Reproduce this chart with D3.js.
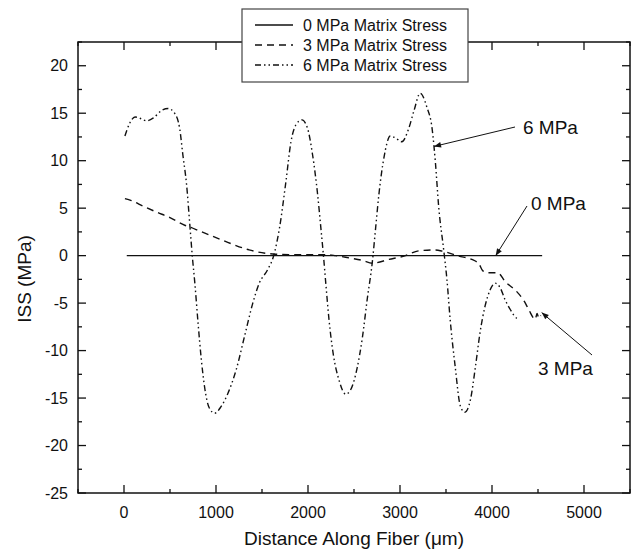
<!DOCTYPE html>
<html>
<head>
<meta charset="utf-8">
<script src="https://cdn.jsdelivr.net/npm/d3@7"></script>
<style>
  body { margin: 0; background: #fff; }
  text { font-family: "Liberation Sans", Arial, Helvetica, sans-serif; fill: #111; }
</style>
</head>
<body>
<svg id="chart" width="634" height="553"></svg>
<script>
// series (x in µm, ISS in MPa)
const zeroX = [30, 4545];
const zeroY = [0, 0];

const threeX = [10, 80, 210, 350, 500, 660, 720, 820, 1000, 1180, 1360, 1540, 1650, 1800, 2000, 2200, 2300, 2450, 2590, 2700, 2880, 3060, 3200, 3380, 3470, 3640, 3780, 3860, 3900, 3960, 4060, 4150, 4260, 4350, 4400, 4470, 4490, 4510, 4530];
const threeY = [6.0, 5.8, 5.2, 4.6, 4.0, 3.2, 3.0, 2.6, 1.9, 1.2, 0.6, 0.25, 0.15, 0.1, 0.1, 0.1, 0.0, -0.25, -0.5, -0.8, -0.4, 0.0, 0.5, 0.6, 0.45, -0.05, -0.4, -0.9, -1.6, -1.8, -1.8, -2.8, -3.7, -4.8, -5.7, -6.7, -6.1, -6.6, -6.3];

const sixX = [10, 65, 120, 190, 245, 320, 410, 480, 550, 605, 640, 680, 715, 742, 770, 805, 840, 880, 925, 985, 1055, 1130, 1220, 1310, 1400, 1470, 1560, 1627, 1690, 1760, 1815, 1870, 1935, 1995, 2050, 2105, 2140, 2168, 2195, 2230, 2275, 2340, 2410, 2465, 2535, 2590, 2645, 2700, 2735, 2770, 2825, 2895, 2950, 3020, 3095, 3150, 3220, 3290, 3350, 3385, 3420, 3475, 3510, 3545, 3600, 3655, 3705, 3765, 3820, 3870, 3925, 3980, 4035, 4090, 4140, 4200, 4270, 4300];
const sixY = [12.6, 14.0, 14.6, 14.4, 14.2, 14.5, 15.3, 15.5, 15.0, 13.4, 10.6, 7.5, 3.3, 0.0, -2.9, -7.1, -10.9, -14.1, -16.0, -16.6, -15.9, -14.5, -12.0, -8.5, -5.0, -2.9, -1.5, 0.0, 2.9, 7.8, 12.0, 13.8, 14.3, 13.4, 10.6, 6.4, 2.9, 0.0, -3.1, -6.9, -10.4, -13.2, -14.6, -14.1, -11.8, -8.7, -4.5, -0.6, 2.9, 6.4, 10.3, 12.6, 12.4, 12.0, 13.4, 15.2, 17.1, 15.7, 13.3, 9.8, 5.2, 0.6, -2.5, -6.7, -11.7, -15.8, -16.5, -15.2, -11.7, -8.1, -5.3, -3.6, -2.9, -3.4, -4.6, -5.7, -6.6, -6.7];

const legendLabels = ["0 MPa Matrix Stress", "3 MPa Matrix Stress", "6 MPa Matrix Stress"];
const xTicks = [0, 1000, 2000, 3000, 4000, 5000];
const yTicks = [20, 15, 10, 5, 0, -5, -10, -15, -20, -25];

const mLeft = 78, mRight = 630, mTop = 42, mBottom = 493;

const svg = d3.select("#chart");

const x = d3.scaleLinear().domain([-500, 5500]).range([mLeft, mRight]);
const y = d3.scaleLinear().domain([-25, 22.5]).range([mBottom, mTop]);

const dashes = ["none", "7,5", "6,3,1.5,3,1.5,3"];

const line = d3.line()
	.x(d => x(d[0]))
	.y(d => y(d[1]))
	.curve(d3.curveMonotoneX);

const series = [
	d3.zip(zeroX, zeroY),
	d3.zip(threeX, threeY),
	d3.zip(sixX, sixY)
];

// frame
svg.append("rect")
	.attr("x", mLeft).attr("y", mTop)
	.attr("width", mRight - mLeft).attr("height", mBottom - mTop)
	.attr("fill", "none").attr("stroke", "#111").attr("stroke-width", 1.5);

// ticks, all pointing into the plot
const xMinor = d3.range(-500, 5501, 500);
const yMinor = d3.range(-25, 22.6, 2.5);

function tickLen(v, major) { return major.includes(v) ? 8 : 4; }

const tg = svg.append("g").attr("stroke", "#111").attr("stroke-width", 1.3);
xMinor.forEach(v => {
	const l = tickLen(v, xTicks);
	tg.append("line").attr("x1", x(v)).attr("x2", x(v)).attr("y1", mBottom).attr("y2", mBottom - l);
	tg.append("line").attr("x1", x(v)).attr("x2", x(v)).attr("y1", mTop).attr("y2", mTop + l);
});
yMinor.forEach(v => {
	const l = tickLen(v, yTicks);
	tg.append("line").attr("y1", y(v)).attr("y2", y(v)).attr("x1", mLeft).attr("x2", mLeft + l);
	tg.append("line").attr("y1", y(v)).attr("y2", y(v)).attr("x1", mRight).attr("x2", mRight - l);
});

// tick labels
svg.append("g").selectAll("text").data(xTicks).join("text")
	.attr("x", d => x(d)).attr("y", 518)
	.attr("text-anchor", "middle").attr("font-size", 16)
	.text(d => d);

svg.append("g").selectAll("text").data(yTicks).join("text")
	.attr("x", mLeft - 10).attr("y", d => y(d) + 5.5)
	.attr("text-anchor", "end").attr("font-size", 16)
	.text(d => d);

// axis titles
svg.append("text")
	.attr("x", (mLeft + mRight) / 2).attr("y", 545)
	.attr("text-anchor", "middle").attr("font-size", 19)
	.text("Distance Along Fiber (\u03bcm)");

svg.append("text")
	.attr("transform", "translate(31,279) rotate(-90)")
	.attr("text-anchor", "middle").attr("font-size", 19)
	.text("ISS (MPa)");

// data lines
svg.append("g").selectAll("path").data(series).join("path")
	.attr("d", line)
	.attr("fill", "none")
	.attr("stroke", "#111")
	.attr("stroke-width", 1.4)
	.attr("stroke-dasharray", (d, i) => dashes[i]);

// annotations with arrows
svg.append("defs").append("marker")
	.attr("id", "arrow").attr("viewBox", "0 0 10 10")
	.attr("refX", 10).attr("refY", 5)
	.attr("markerWidth", 9).attr("markerHeight", 7)
	.attr("orient", "auto")
	.append("path").attr("d", "M0,1 L10,5 L0,9 Z").attr("fill", "#111");

const notes = [
	{ text: "6 MPa", tx: 523, ty: 134, from: [515, 127], to: [3370, 11.5] },
	{ text: "0 MPa", tx: 531, ty: 210, from: [527, 206], to: [4040, 0] },
	{ text: "3 MPa", tx: 538, ty: 375, from: [592, 355], to: [4540, -6.0] }
];

notes.forEach(n => {
	svg.append("line")
		.attr("x1", n.from[0]).attr("y1", n.from[1])
		.attr("x2", x(n.to[0])).attr("y2", y(n.to[1]))
		.attr("stroke", "#111").attr("stroke-width", 1)
		.attr("marker-end", "url(#arrow)");
	svg.append("text")
		.attr("x", n.tx).attr("y", n.ty)
		.attr("font-size", 19)
		.text(n.text);
});

// legend
const lg = svg.append("g");
lg.append("rect")
	.attr("x", 242).attr("y", 9).attr("width", 226).attr("height", 73)
	.attr("fill", "#fff").attr("stroke", "#444").attr("stroke-width", 1.2);

legendLabels.forEach((t, i) => {
	const ly = 25 + i * 20;
	lg.append("line")
		.attr("x1", 255).attr("x2", 293).attr("y1", ly).attr("y2", ly)
		.attr("stroke", "#111").attr("stroke-width", 1.4)
		.attr("stroke-dasharray", dashes[i]);
	lg.append("text")
		.attr("x", 303).attr("y", ly + 5.5)
		.attr("font-size", 16)
		.text(t);
});
</script>
</body>
</html>
